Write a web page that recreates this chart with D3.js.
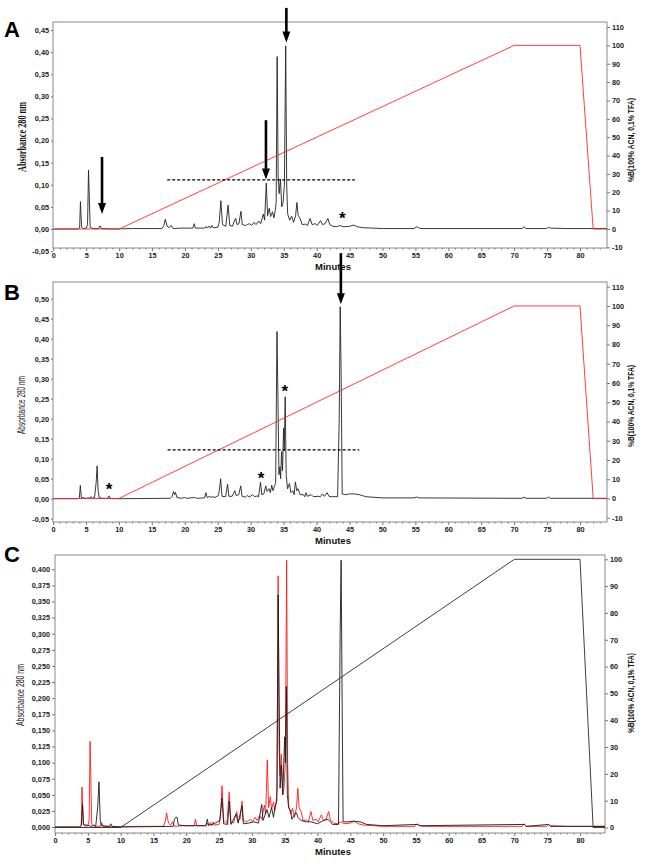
<!DOCTYPE html>
<html><head><meta charset="utf-8">
<script src="https://cdn.jsdelivr.net/npm/d3@7"></script>
<style>body{margin:0;background:#fff} svg{display:block}</style>
</head><body>
<svg id="chart" width="666" height="867"></svg>
<script>
// ---------------- DATA ----------------
const xTickLabels = [0,5,10,15,20,25,30,35,40,45,50,55,60,65,70,75,80];
const xMinorTicks = [1,2,3,4,6,7,8,9,11,12,13,14,16,17,18,19,21,22,23,24,26,27,28,29,31,32,33,34,36,37,38,39,41,42,43,44,46,47,48,49,51,52,53,54,56,57,58,59,61,62,63,64,66,67,68,69,71,72,73,74,76,77,78,79,81,82,83];
const leftTicksA = [-0.05,0,0.05,0.10,0.15,0.20,0.25,0.30,0.35,0.40,0.45];
const leftTicksB = [-0.05,0,0.05,0.10,0.15,0.20,0.25,0.30,0.35,0.40,0.45,0.50];
const leftTicksC = [0,0.025,0.05,0.075,0.1,0.125,0.15,0.175,0.2,0.225,0.25,0.275,0.3,0.325,0.35,0.375,0.4];
const rightTicksAB = [-10,0,10,20,30,40,50,60,70,80,90,100,110];
const rightTicksC = [0,10,20,30,40,50,60,70,80,90,100];

// solvent gradient (%B) vs minutes
const gradientTime = [0, 10, 70, 80, 82, 85];
const gradientPctB = [0, 0, 100, 100, 0, 0];

// chromatogram A (also red trace in C): [minutes, absorbance]
const traceA = [
[0,0],[3.8,0],[4.0,0.002],[4.12,0.062],[4.2,0.035],[4.3,0.004],[4.6,0.001],[5.0,0.002],[5.2,0.01],[5.35,0.133],[5.45,0.08],[5.6,0.004],[6.0,0.001],[6.9,0.001],[7.1,0.007],[7.3,0.001],[9,0],[12,0.001],[16.5,0.001],[16.8,0.008],[17.0,0.022],[17.3,0.006],[17.6,0.003],[17.9,0.008],[18.2,0.001],[19.5,0.002],[21.2,0.002],[21.4,0.012],[21.6,0.002],[23.0,0.002],[23.2,0.006],[23.4,0.002],[23.7,0.007],[23.9,0.002],[24.1,0.008],[24.3,0.003],[25.0,0.004],[25.2,0.015],[25.45,0.064],[25.7,0.01],[26.2,0.006],[26.55,0.054],[26.8,0.008],[27.2,0.006],[27.5,0.018],[27.7,0.024],[27.9,0.01],[28.2,0.012],[28.5,0.040],[28.7,0.01],[29.2,0.008],[29.5,0.01],[29.8,0.012],[30.1,0.008],[30.5,0.015],[30.8,0.01],[31.2,0.018],[31.5,0.012],[31.9,0.034],[32.1,0.02],[32.35,0.104],[32.55,0.03],[32.8,0.047],[33.0,0.028],[33.3,0.039],[33.5,0.025],[33.7,0.04],[33.85,0.06],[34.0,0.39],[34.15,0.12],[34.3,0.08],[34.5,0.113],[34.7,0.05],[34.9,0.06],[35.1,0.1],[35.3,0.414],[35.45,0.1],[35.6,0.034],[35.9,0.02],[36.2,0.029],[36.5,0.015],[36.8,0.03],[37.0,0.06],[37.2,0.03],[37.5,0.024],[37.8,0.01],[38.3,0.011],[38.6,0.008],[39.0,0.024],[39.3,0.01],[39.8,0.012],[40.1,0.008],[40.6,0.019],[40.9,0.01],[41.3,0.012],[41.7,0.024],[42.0,0.01],[42.5,0.006],[43.0,0.005],[43.6,0.008],[44.0,0.005],[45.0,0.006],[45.6,0.009],[46.2,0.005],[47,0.003],[50,0.001],[54.8,0.001],[55.2,0.005],[55.6,0.002],[56,0.001],[71.2,0.001],[71.5,0.005],[71.8,0.001],[74.9,0.001],[75.2,0.004],[75.5,0.002],[78,0.001],[85,0.001]
];

// chromatogram B
const traceB = [
[0,0],[3.8,0],[4.0,0.002],[4.15,0.033],[4.3,0.003],[5.0,0.001],[5.6,0.002],[5.8,0.005],[6.0,0.002],[6.3,0.003],[6.55,0.04],[6.7,0.082],[6.85,0.02],[7.0,0.003],[7.5,0.001],[8.3,0.001],[8.5,0.007],[8.7,0.001],[10,0],[17.8,0.001],[18.1,0.006],[18.3,0.018],[18.45,0.01],[18.6,0.016],[18.8,0.003],[19.5,0.001],[20.0,0.003],[20.3,0.001],[21.5,0.003],[21.8,0.001],[23.0,0.002],[23.2,0.015],[23.4,0.003],[23.8,0.006],[24.0,0.003],[24.3,0.005],[24.6,0.003],[25.1,0.008],[25.25,0.02],[25.45,0.05],[25.65,0.006],[26.2,0.005],[26.5,0.036],[26.7,0.006],[27.2,0.006],[27.6,0.02],[27.8,0.008],[28.2,0.01],[28.5,0.032],[28.7,0.006],[29.2,0.004],[29.5,0.008],[29.8,0.004],[30.3,0.01],[30.6,0.005],[31.0,0.007],[31.2,0.004],[31.5,0.041],[31.7,0.01],[32.0,0.012],[32.3,0.032],[32.5,0.018],[32.8,0.025],[33.0,0.015],[33.2,0.034],[33.4,0.02],[33.6,0.03],[33.8,0.04],[34.0,0.418],[34.15,0.25],[34.3,0.06],[34.45,0.08],[34.55,0.05],[34.7,0.118],[34.85,0.07],[35.0,0.176],[35.1,0.12],[35.25,0.255],[35.4,0.06],[35.6,0.025],[35.9,0.038],[36.1,0.015],[36.4,0.02],[36.6,0.01],[36.8,0.042],[37.0,0.02],[37.2,0.025],[37.5,0.01],[38.0,0.01],[38.2,0.005],[38.4,0.015],[38.6,0.006],[39.2,0.01],[39.5,0.005],[40.3,0.006],[40.6,0.005],[40.9,0.012],[41.2,0.006],[41.6,0.015],[41.9,0.006],[42.3,0.005],[43.2,0.005],[43.45,0.2],[43.6,0.48],[43.75,0.3],[43.9,0.012],[44.3,0.01],[45.0,0.012],[45.8,0.012],[46.5,0.01],[47.5,0.005],[50,0.002],[54.8,0.002],[55.2,0.004],[55.6,0.002],[70,0.001],[71.2,0.001],[71.5,0.004],[71.8,0.001],[74.9,0.001],[75.2,0.004],[75.5,0.001],[85,0.001]
];

// black trace in C
const traceC = [
[0,0],[3.8,0],[4.0,0.002],[4.2,0.035],[4.35,0.004],[5.6,0.001],[5.9,0.003],[6.2,0.001],[6.5,0.03],[6.7,0.070],[6.9,0.01],[7.1,0.002],[8.3,0.001],[8.5,0.005],[8.7,0.001],[10,0],[18.0,0.001],[18.2,0.012],[18.4,0.015],[18.6,0.015],[18.8,0.003],[20,0.002],[23.0,0.002],[23.2,0.012],[23.4,0.003],[24,0.004],[25.1,0.01],[25.45,0.045],[25.7,0.005],[26.3,0.004],[26.55,0.04],[26.8,0.004],[27.6,0.02],[27.9,0.006],[28.5,0.033],[28.7,0.005],[29.5,0.006],[30.3,0.008],[31.0,0.006],[31.5,0.035],[31.7,0.01],[32.3,0.027],[32.6,0.015],[33.0,0.03],[33.3,0.015],[33.5,0.03],[33.8,0.04],[34.0,0.36],[34.15,0.2],[34.3,0.06],[34.5,0.096],[34.7,0.05],[35.0,0.14],[35.1,0.1],[35.25,0.218],[35.4,0.05],[35.6,0.03],[35.9,0.025],[36.1,0.012],[36.5,0.02],[36.8,0.022],[37.0,0.015],[37.5,0.01],[38.3,0.008],[39,0.008],[40,0.005],[40.9,0.01],[41.6,0.012],[42.3,0.004],[43.2,0.004],[43.45,0.3],[43.6,0.414],[43.75,0.2],[43.9,0.008],[44.5,0.008],[45.5,0.009],[46.5,0.008],[47.5,0.004],[50,0.002],[55.2,0.004],[55.6,0.002],[71.5,0.004],[71.8,0.001],[75.2,0.004],[75.5,0.001],[85,0.001]
];

// annotations (minutes, absorbance)
const arrowsA = [{t:7.4, v0:0.163, v1:0.034},{t:32.3, v0:0.246, v1:0.112},{t:35.4, v0:0.500, v1:0.422}];
const arrowsB = [{t:43.7, v0:0.614, v1:0.486}];
const starsA = [{t:43.9, v:0.027}];
const starsB = [{t:8.5, v:0.026},{t:31.6, v:0.055},{t:35.2, v:0.272}];
const dashA = {t0:17.3, t1:45.8, v:0.111};
const dashB = {t0:17.4, t1:46.5, v:0.122};

// ---------------- DRAW ----------------
const svg = d3.select("#chart");
const FONT = "'Liberation Sans', Arial, sans-serif";

function comma(v, d){ return v.toFixed(d).replace(".", ","); }

function panel(cfg){
  const g = svg.append("g");
  const x = d3.scaleLinear().domain([0,80]).range(cfg.xr);
  const yL = d3.scaleLinear().domain(cfg.ld).range(cfg.lr);
  const yR = d3.scaleLinear().domain(cfg.rd).range(cfg.rr);
  const id = "clip" + cfg.letter;
  svg.append("clipPath").attr("id", id).append("rect")
    .attr("x", cfg.left).attr("y", cfg.top).attr("width", cfg.right-cfg.left).attr("height", cfg.bottom-cfg.top);

  // frame
  g.append("rect").attr("x", cfg.left).attr("y", cfg.top)
    .attr("width", cfg.right-cfg.left).attr("height", cfg.bottom-cfg.top)
    .attr("fill", "#fff").attr("stroke", "#8a8a8a").attr("stroke-width", 1);

  const plot = g.append("g").attr("clip-path", `url(#${id})`);
  const line = d3.line().x(d => x(d[0])).y(d => yL(d[1]));
  const gradPts = gradientTime.map((t,i)=>[t, gradientPctB[i]]);
  const gline = d3.line().x(d => x(d[0])).y(d => yR(d[1]));

  cfg.traces.forEach(tr => {
    plot.append("path").datum(tr.data).attr("d", line)
      .attr("fill","none").attr("stroke", tr.color).attr("stroke-width", tr.w).attr("stroke-linejoin","round").attr("opacity", tr.op || 1);
  });
  plot.append("path").datum(gradPts).attr("d", gline)
    .attr("fill","none").attr("stroke", cfg.gradColor).attr("stroke-width", 1).attr("opacity", cfg.gradOp);

  // x axis
  const xa = g.append("g").attr("transform", `translate(0,${cfg.bottom})`)
    .call(d3.axisBottom(x).tickValues(xTickLabels).tickSize(3).tickPadding(1.5).tickFormat(d=>d));
  xa.select(".domain").remove();
  g.append("g").attr("transform", `translate(0,${cfg.bottom})`)
    .call(d3.axisBottom(x).tickValues(xMinorTicks).tickSize(1.5).tickFormat(""))
    .select(".domain").remove();
  // left axis
  const la = g.append("g").attr("transform", `translate(${cfg.left},0)`)
    .call(d3.axisLeft(yL).tickValues(cfg.lt).tickSize(cfg.ltick).tickPadding(2).tickFormat(d=>comma(d, cfg.ldec)));
  la.select(".domain").remove();
  // right axis
  const ra = g.append("g").attr("transform", `translate(${cfg.right},0)`)
    .call(d3.axisRight(yR).tickValues(cfg.rt).tickSize(3).tickPadding(2).tickFormat(d=>d));
  ra.select(".domain").remove();
  [xa, la, ra].forEach(a => {
    a.selectAll("text").attr("font-family", FONT).attr("font-weight","bold").attr("font-size", 7.3).attr("fill","#222");
  });
  g.selectAll(".tick line").attr("stroke","#777");

  // titles
  g.append("text").attr("x", (cfg.left+cfg.right)/2 + 3).attr("y", cfg.bottom + 22)
    .attr("text-anchor","middle").attr("font-family", FONT).attr("font-weight","bold").attr("font-size", 9.5).attr("fill","#111").text("Minutes");
  g.append("text").attr("transform", `translate(${cfg.ylx},${cfg.ylc}) rotate(-90)`)
    .attr("text-anchor","middle").attr("font-family", cfg.ylFont).attr("font-weight", cfg.ylWeight).attr("font-size", cfg.ylSize)
    .attr("textLength", cfg.ylLen).attr("lengthAdjust","spacingAndGlyphs").attr("fill","#111").text("Absorbance 280 nm");
  g.append("text").attr("transform", `translate(${cfg.yrx},${cfg.yrc}) rotate(-90)`)
    .attr("text-anchor","middle").attr("font-family", FONT).attr("font-weight","bold").attr("font-size", 9)
    .attr("textLength", cfg.yrLen).attr("lengthAdjust","spacingAndGlyphs").attr("fill","#111").text("%B(100% ACN, 0,1% TFA)");
  g.append("text").attr("x", 4).attr("y", cfg.letterY).attr("font-family", FONT).attr("font-weight","bold")
    .attr("font-size", 22).attr("fill","#000").text(cfg.letter);

  // annotations
  if (cfg.dash) {
    g.append("line").attr("x1", x(cfg.dash.t0)).attr("x2", x(cfg.dash.t1))
      .attr("y1", yL(cfg.dash.v)).attr("y2", yL(cfg.dash.v))
      .attr("stroke","#000").attr("stroke-width",1.2).attr("stroke-dasharray","3,2");
  }
  (cfg.arrows||[]).forEach(a => {
    const ax = x(a.t), y0 = yL(a.v0), y1 = yL(a.v1);
    g.append("line").attr("x1", ax).attr("x2", ax).attr("y1", y0).attr("y2", y1 - 9)
      .attr("stroke","#000").attr("stroke-width", 2.6);
    g.append("path").attr("d", `M${ax-4},${y1-11} L${ax+4},${y1-11} L${ax},${y1} Z`).attr("fill","#000");
  });
  (cfg.stars||[]).forEach(s => {
    g.append("text").attr("x", x(s.t)).attr("y", yL(s.v) + 7).attr("text-anchor","middle")
      .attr("font-family", FONT).attr("font-weight","bold").attr("font-size", 17).attr("fill","#000").text("*");
  });
}

panel({letter:"A", letterY:37, left:53, right:607, top:22, bottom:248,
  xr:[53.3,580], ld:[0,0.45], lr:[229,30], rd:[0,110], rr:[229,27],
  lt:leftTicksA, ldec:2, ltick:2, rt:rightTicksAB,
  traces:[{data:traceA, color:"#222", w:0.9}], gradColor:"#ff2020", gradOp:0.85,
  ylx:26, ylc:137, ylFont:"'Liberation Serif', 'Times New Roman', serif", ylWeight:"bold", ylSize:12, ylLen:70,
  yrx:634, yrc:140, yrLen:84,
  arrows:arrowsA, stars:starsA, dash:dashA});

panel({letter:"B", letterY:300, left:53, right:607, top:282, bottom:522,
  xr:[53,580], ld:[0,0.5], lr:[498.7,298.7], rd:[0,110], rr:[498.5,286.7],
  lt:leftTicksB, ldec:2, ltick:2, rt:rightTicksAB,
  traces:[{data:traceB, color:"#222", w:0.9}], gradColor:"#ff2020", gradOp:0.85,
  ylx:25, ylc:405, ylFont:FONT, ylWeight:"normal", ylSize:10, ylLen:58,
  yrx:634, yrc:406, yrLen:82,
  arrows:arrowsB, stars:starsB, dash:dashB});

panel({letter:"C", letterY:562, left:55, right:605, top:555, bottom:833,
  xr:[55,580], ld:[0,0.4], lr:[827,569.3], rd:[0,100], rr:[827.5,559.3],
  lt:leftTicksC, ldec:3, ltick:3, rt:rightTicksC,
  traces:[{data:traceA, color:"#ff1a1a", w:0.9},{data:traceC, color:"#1a1a1a", w:0.9}], gradColor:"#2a2a2a", gradOp:0.9,
  ylx:24, ylc:695, ylFont:FONT, ylWeight:"normal", ylSize:10, ylLen:62,
  yrx:634, yrc:693, yrLen:80});
</script>
</body></html>
